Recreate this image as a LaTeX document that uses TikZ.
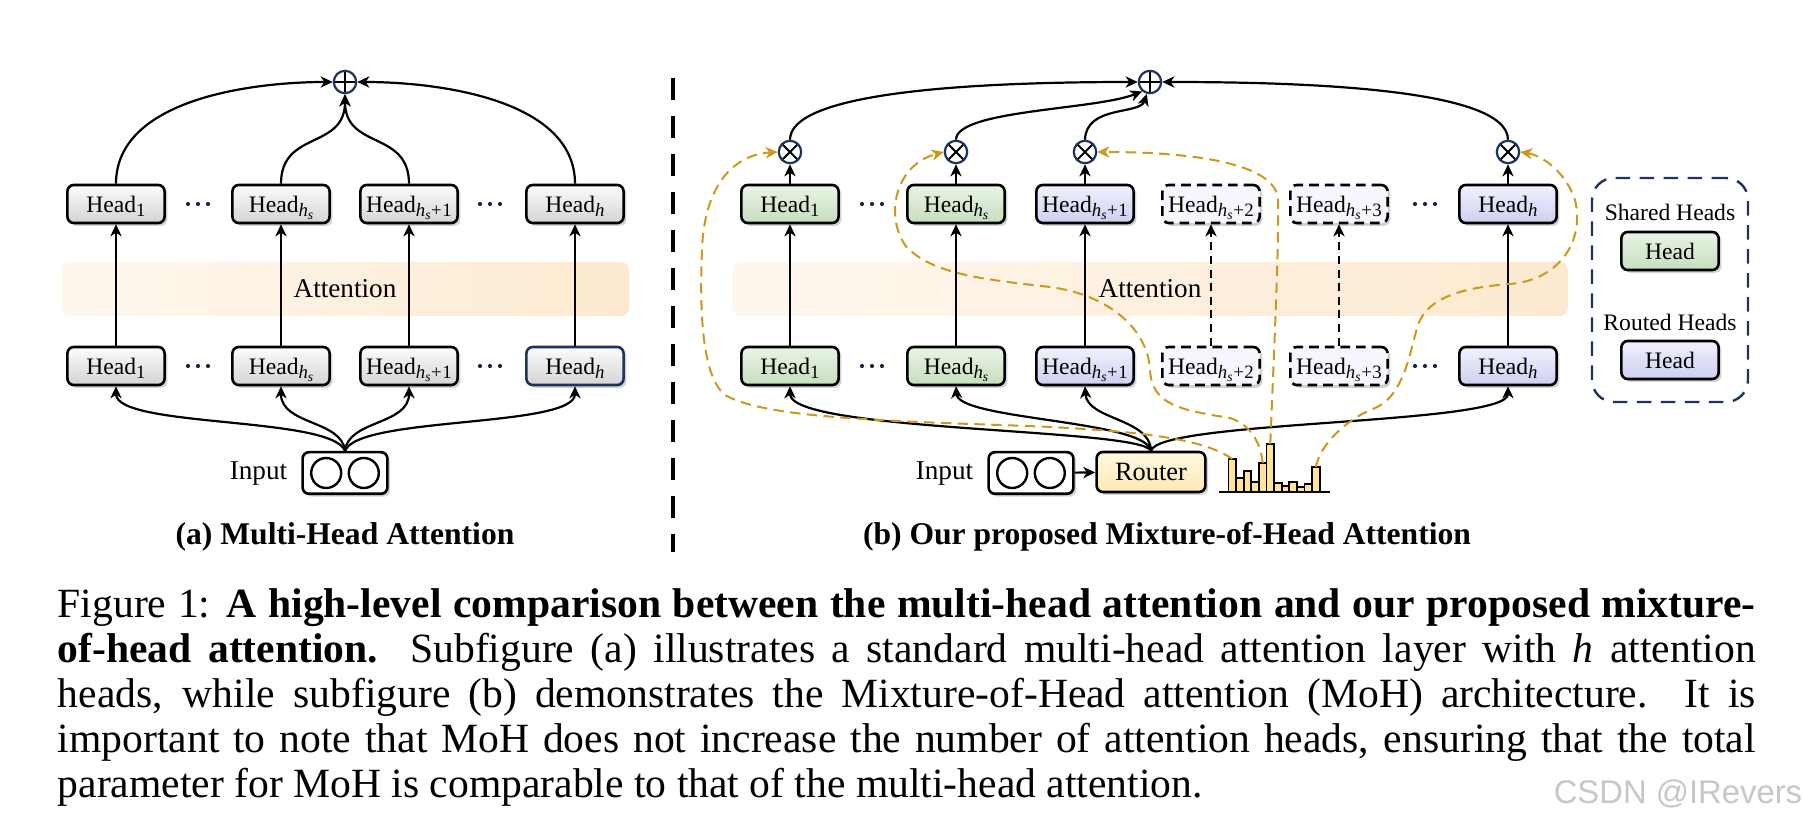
\documentclass[tikz,border=0pt]{standalone}
\usepackage{fontspec}
\setmainfont{Liberation Serif}
\newfontfamily\markfont{Liberation Sans}
\usetikzlibrary{arrows.meta,shadows}

\definecolor{navy}{RGB}{30,52,92}
\definecolor{gold}{RGB}{204,153,26}
\definecolor{dotc}{RGB}{28,40,70}
\definecolor{grayhi}{RGB}{252,252,252}
\definecolor{graylo}{RGB}{212,212,212}
\definecolor{greenhi}{RGB}{234,244,230}
\definecolor{greenlo}{RGB}{198,222,190}
\definecolor{lavhi}{RGB}{242,242,254}
\definecolor{lavlo}{RGB}{205,207,240}
\definecolor{idlefill}{RGB}{246,246,254}
\definecolor{routhi}{RGB}{255,248,224}
\definecolor{routlo}{RGB}{255,233,182}
\definecolor{barfill}{RGB}{255,228,150}
\definecolor{bandc}{RGB}{253,233,208}

% head labels with a lowered index, and h with its own index s
\newcommand{\Hd}[1]{Head\smash{\raisebox{-1.1pt}{\fontsize{4.7}{5}\selectfont #1}}}
\newcommand{\hsx}{\textit{h}\raisebox{-0.8pt}{\fontsize{3.4}{4}\selectfont\textit{s}}}
\newcommand{\pl}{\kern0.15pt+\kern0.15pt}

\tikzset{
  lbl/.style={inner sep=0pt, font=\fontsize{6.8}{8}\selectfont},
  smalllbl/.style={inner sep=0pt, font=\fontsize{5.9}{7}\selectfont},
  subcap/.style={inner sep=0pt, font=\fontsize{7.9}{9}\selectfont\bfseries},
  capline/.style={inner sep=0pt, anchor=base west, font=\fontsize{10.4}{12}\selectfont},
  softshadow/.style={drop shadow={opacity=0.35, shadow xshift=0.7pt, shadow yshift=-0.7pt}},
  headbox/.style={draw=black, line width=0.65pt, rounded corners=1.6pt,
    minimum width=24.3pt, minimum height=9.5pt, inner sep=0pt,
    font=\fontsize{5.9}{7}\selectfont, softshadow},
  grayhead/.style={headbox, top color=grayhi, bottom color=graylo},
  sharedhead/.style={headbox, top color=greenhi, bottom color=greenlo},
  routedhead/.style={headbox, top color=lavhi, bottom color=lavlo},
  idlehead/.style={headbox, fill=idlefill, dash pattern=on 2.4pt off 1.5pt},
  sumnode/.style={circle, draw=navy, fill=white, line width=0.55pt,
    minimum size=5.6pt, inner sep=0pt},
  oplus/.style={sumnode, path picture={\draw[black, line width=0.5pt]
      (path picture bounding box.north) -- (path picture bounding box.south)
      (path picture bounding box.west) -- (path picture bounding box.east);}},
  otimes/.style={sumnode, path picture={\draw[black, line width=0.5pt]
      (path picture bounding box.north west) -- (path picture bounding box.south east)
      (path picture bounding box.north east) -- (path picture bounding box.south west);}},
  tip/.style={-{Stealth[length=3pt, width=2.8pt, inset=0.9pt]}},
  conn/.style={draw=black, line width=0.55pt, tip},
  idleconn/.style={conn, dash pattern=on 2pt off 1.4pt},
  gate/.style={draw=gold, line width=0.5pt, dash pattern=on 2.6pt off 1.6pt, tip},
  attband/.style={rounded corners=2pt, left color=bandc!35, right color=bandc,
    minimum height=13.5pt, inner sep=0pt, font=\fontsize{6.8}{8}\selectfont},
  inbox/.style={draw=black, line width=0.65pt, fill=white, rounded corners=1.6pt,
    minimum width=21.2pt, minimum height=10.4pt, inner sep=0pt, softshadow},
  routerbox/.style={draw=black, line width=0.65pt, top color=routhi, bottom color=routlo,
    rounded corners=1.6pt, minimum width=27.2pt, minimum height=10pt, inner sep=0pt,
    font=\fontsize{6.6}{8}\selectfont, softshadow},
  token/.style={draw=black, line width=0.6pt, fill=white},
}

\begin{document}
\begin{tikzpicture}[x=0.25pt, y=-0.25pt]
\useasboundingbox (0,0) rectangle (1802,823);
\fill[white] (0,0) rectangle (1802,823);

% ---------- (a) multi-head attention ----------
\node[attband, minimum width=142pt] (bandA) at (345,289) {Attention};
\node[oplus] (oA) at (345,82) {};

\node[grayhead] (at1) at (116,204) {\Hd{1}};
\node[grayhead] (at2) at (281,204) {\Hd{\hsx}};
\node[grayhead] (at3) at (409,204) {\Hd{\hsx\pl1}};
\node[grayhead] (at4) at (575,204) {\Hd{\textit{h}}};

\node[grayhead] (ab1) at (116,366) {\Hd{1}};
\node[grayhead] (ab2) at (281,366) {\Hd{\hsx}};
\node[grayhead] (ab3) at (409,366) {\Hd{\hsx\pl1}};
\node[grayhead, draw=navy] (ab4) at (575,366) {\Hd{\textit{h}}};

\node[inbox] (inA) at (345,473) {};
\draw[token] ([xshift=-4.7pt]inA.center) circle[radius=3.75pt];
\draw[token] ([xshift=4.7pt]inA.center) circle[radius=3.75pt];
\node[lbl, anchor=east] (inAl) at (288,473) {Input};

\node[subcap] (capA) at (345,537) {(a) Multi-Head Attention};

% input to the heads
\draw[conn] (inA.north) .. controls (332,416) and (116,428) .. (ab1.south);
\draw[conn] (inA.north) .. controls (342,420) and (281,425) .. (ab2.south);
\draw[conn] (inA.north) .. controls (348,420) and (409,425) .. (ab3.south);
\draw[conn] (inA.north) .. controls (358,416) and (575,428) .. (ab4.south);

% attention
\draw[conn] (ab1) -- (at1);
\draw[conn] (ab2) -- (at2);
\draw[conn] (ab3) -- (at3);
\draw[conn] (ab4) -- (at4);

% heads to the sum
\draw[conn] (at1.north) .. controls (116,100) and (250,82) .. (oA.west);
\draw[conn] (at2.north) .. controls (281,130) and (345,150) .. (oA.south);
\draw[conn] (at3.north) .. controls (409,130) and (345,150) .. (oA.south);
\draw[conn] (at4.north) .. controls (575,100) and (440,82) .. (oA.east);

% divider
\draw[line width=1.1pt, dash pattern=on 5.5pt off 4pt] (673,78) -- (673,552);

% ---------- (b) mixture-of-head attention ----------
\node[attband, minimum width=208.7pt] (bandB) at (1150,289) {Attention};
\node[oplus] (oB) at (1150,82) {};

\node[otimes] (x1) at (790,152) {};
\node[otimes] (x2) at (956,152) {};
\node[otimes] (x3) at (1085,152) {};
\node[otimes] (xh) at (1508,152) {};

\node[sharedhead] (t1) at (790,204) {\Hd{1}};
\node[sharedhead] (t2) at (956,204) {\Hd{\hsx}};
\node[routedhead] (t3) at (1085,204) {\Hd{\hsx\pl1}};
\node[idlehead]   (t4) at (1211,204) {\Hd{\hsx\pl2}};
\node[idlehead]   (t5) at (1339,204) {\Hd{\hsx\pl3}};
\node[routedhead] (th) at (1508,204) {\Hd{\textit{h}}};

\node[sharedhead] (b1) at (790,366) {\Hd{1}};
\node[sharedhead] (b2) at (956,366) {\Hd{\hsx}};
\node[routedhead] (b3) at (1085,366) {\Hd{\hsx\pl1}};
\node[idlehead]   (b4) at (1211,366) {\Hd{\hsx\pl2}};
\node[idlehead]   (b5) at (1339,366) {\Hd{\hsx\pl3}};
\node[routedhead] (bh) at (1508,366) {\Hd{\textit{h}}};

% ellipses between heads
\foreach \cx/\cy in {198/204,198/366,490/204,490/366,872/204,872/366,1425/204,1425/366}
  \foreach \k in {-10,0,10}
    \fill[dotc] (\cx+\k,\cy) circle[radius=2.1];

\node[inbox] (inB) at (1031,473) {};
\draw[token] ([xshift=-4.7pt]inB.center) circle[radius=3.75pt];
\draw[token] ([xshift=4.7pt]inB.center) circle[radius=3.75pt];
\node[lbl, anchor=east] (inBl) at (974,473) {Input};
\node[routerbox] (router) at (1151,472) {Router};
\draw[conn] (inB) -- (router);

% routing scores
\foreach \i/\t in {1/459,2/478,3/471,4/482,5/463,6/444,7/483,8/486,9/482,10/487,11/484,12/467} {
  \pgfmathsetmacro\xl{1228.5+7.6*(\i-1)}
  \draw[fill=barfill, line width=0.45pt] (\xl,492) rectangle ++(7.6,\t-492);
  \coordinate (bar\i) at (\xl+3.8,\t);
}
\draw[line width=0.65pt] (1219,492) -- (1330,492);

\node[subcap] (capB) at (1167,537) {(b) Our proposed Mixture-of-Head Attention};

% router to the heads
\draw[conn] (router.north) .. controls (1140,428) and (790,432) .. (b1.south);
\draw[conn] (router.north) .. controls (1145,420) and (958,420) .. (b2.south);
\draw[conn] (router.north) .. controls (1150,418) and (1087,420) .. (b3.south);
\draw[conn] (router.north) .. controls (1160,420) and (1508,425) .. (bh.south);

% attention
\draw[conn] (b1) -- (t1);
\draw[conn] (b2) -- (t2);
\draw[conn] (b3) -- (t3);
\draw[idleconn] (b4) -- (t4);
\draw[idleconn] (b5) -- (t5);
\draw[conn] (bh) -- (th);

% heads to gates
\draw[conn] (t1) -- (x1);
\draw[conn] (t2) -- (x2);
\draw[conn] (t3) -- (x3);
\draw[conn] (th) -- (xh);

% gates to the sum
\draw[conn] (x1.north) .. controls (790,95) and (950,82) .. (oB.west);
\draw[conn] (x2.north) .. controls (956,110) and (1095,110) .. (oB.230);
\draw[conn] (x3.north) .. controls (1086,105) and (1140,115) .. (oB.255);
\draw[conn] (xh.north) .. controls (1508,88) and (1300,82) .. (oB.east);

% routing weights to the gates
\draw[gate] (bar1) .. controls (1205,440) and (1150,430) .. (1000,425)
  .. controls (850,420) and (760,415) .. (725,395)
  .. controls (700,375) and (700,300) .. (702,250)
  .. controls (704,190) and (730,155) .. (x1.west);
\draw[gate] (bar5) .. controls (1261,445) and (1252,425) .. (1230,418)
  .. controls (1180,410) and (1152,405) .. (1150,370)
  .. controls (1148,330) and (1110,295) .. (1050,287)
  .. controls (990,280) and (930,275) .. (905,245)
  .. controls (885,215) and (895,165) .. (x2.west);
\draw[gate] (bar6) .. controls (1274,350) and (1279,250) .. (1278,200)
  .. controls (1277,165) and (1200,152) .. (x3.east);
\draw[gate] (bar12) .. controls (1320,445) and (1345,420) .. (1375,408)
  .. controls (1405,395) and (1410,350) .. (1418,325)
  .. controls (1428,295) and (1470,287) .. (1510,284)
  .. controls (1560,280) and (1585,240) .. (1575,200)
  .. controls (1565,170) and (1540,155) .. (xh.east);

% legend
\node[draw=navy, dash pattern=on 3.6pt off 2.4pt, line width=0.6pt, rounded corners=5.5pt,
  minimum width=39pt, minimum height=56pt] (legend) at (1670,290) {};
\node[smalllbl] (shl) at (1670,212) {Shared Heads};
\node[sharedhead] (shh) at (1670,251) {Head};
\node[smalllbl] (rtl) at (1670,322) {Routed Heads};
\node[routedhead] (rth) at (1670,360) {Head};

% ---------- caption ----------
\node[capline] (cap1) at (57,617) {\makebox[424.5pt][s]{Figure 1: \textbf{A high-level comparison between the multi-head attention and our proposed mixture-}}};
\node[capline] (cap2) at (57,662) {\makebox[424.5pt][s]{\textbf{of-head attention.} Subfigure (a) illustrates a standard multi-head attention layer with \textit{h} attention}};
\node[capline] (cap3) at (57,707.5) {\makebox[424.5pt][s]{heads, while subfigure (b) demonstrates the Mixture-of-Head attention (MoH) architecture.  It is}};
\node[capline] (cap4) at (57,752.5) {\makebox[424.5pt][s]{important to note that MoH does not increase the number of attention heads, ensuring that the total}};
\node[capline] (cap5) at (57,798) {parameter for MoH is comparable to that of the multi-head attention.};

\node[inner sep=0pt, anchor=base west, text=black!22, font=\markfont\fontsize{8.2}{9}\selectfont] (mark) at (1553,803) {CSDN @IRevers};
\end{tikzpicture}
\end{document}
